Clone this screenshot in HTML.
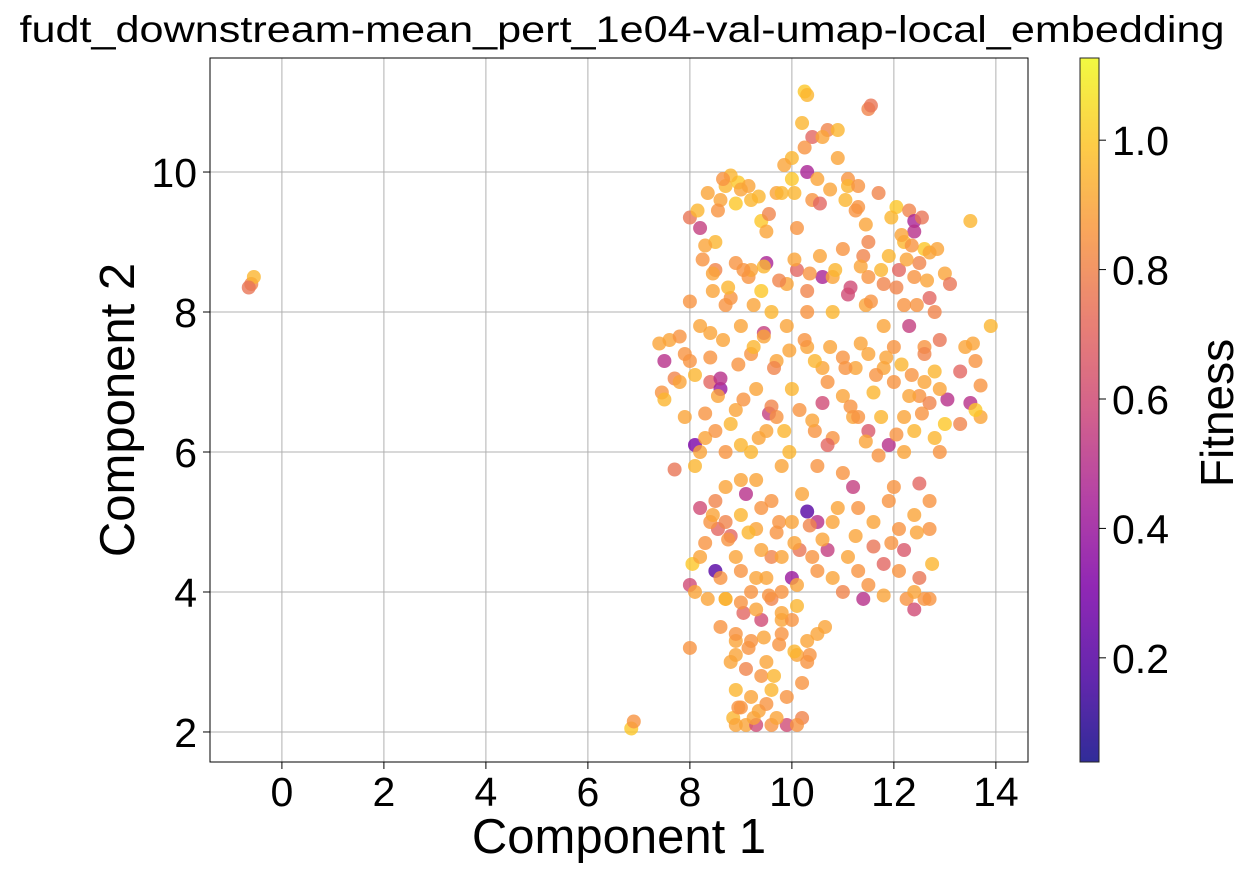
<!DOCTYPE html>
<html><head><meta charset="utf-8"><style>
body{margin:0;background:#fff;font-family:"Liberation Sans",sans-serif}
svg text{font-family:"Liberation Sans",sans-serif;fill:#000}
</style></head><body>
<svg id="chart" width="1247" height="872" viewBox="0 0 1247 872" xmlns="http://www.w3.org/2000/svg">
<defs>
<linearGradient id="plasma" x1="0" y1="1" x2="0" y2="0">
<stop offset="0" stop-color="#0d0887"/><stop offset="0.125" stop-color="#4c02a1"/><stop offset="0.25" stop-color="#7e03a8"/><stop offset="0.375" stop-color="#a82296"/><stop offset="0.5" stop-color="#cc4778"/><stop offset="0.625" stop-color="#e56b5d"/><stop offset="0.75" stop-color="#f89540"/><stop offset="0.875" stop-color="#fdc328"/><stop offset="1" stop-color="#f0f921"/>
</linearGradient>
</defs>
<text x="622" y="42" font-size="37" text-anchor="middle" textLength="1205" lengthAdjust="spacingAndGlyphs">fudt_downstream-mean_pert_1e04-val-umap-local_embedding</text>
<g id="grid"></g>
<g id="points"></g>
<rect x="210" y="58" width="818" height="704" fill="none" stroke="#000" stroke-width="1"/>
<g id="axes"></g>
<text x="619" y="853" font-size="49" text-anchor="middle">Component 1</text>
<text transform="translate(134,410) rotate(-90)" font-size="49" text-anchor="middle">Component 2</text>
<rect x="1080" y="58" width="19" height="704" fill="url(#plasma)" opacity="0.85" stroke="#000" stroke-width="1"/>
<g id="cbticks"></g>
<text transform="translate(1233,413) rotate(-90)" font-size="46" text-anchor="middle">Fitness</text>
</svg>
<script>
const xTicks=[0,2,4,6,8,10,12,14];
const yTicks=[2,4,6,8,10];
const cTicks=[0.2,0.4,0.6,0.8,1.0];
const xs=[-0.6,-0.55,-0.65,6.85,6.9,7.4,7.5,7.45,7.5,7.6,7.7,7.8,7.9,7.7,7.9,8.0,8.0,8.0,8.0,8.05,8.1,8.1,8.1,8.2,8.2,8.2,8.3,8.3,8.35,8.4,8.45,8.5,8.5,8.5,8.5,8.55,8.6,8.6,8.6,8.7,8.7,8.7,8.7,8.7,8.8,8.85,8.9,8.9,8.9,8.9,8.95,9.0,9.0,9.0,9.0,9.05,9.1,9.1,9.1,9.15,9.2,9.2,9.3,9.3,9.35,9.4,9.4,9.4,9.4,9.4,9.45,9.5,9.5,9.55,9.6,9.6,9.6,9.65,9.7,9.7,9.75,9.8,9.8,9.9,9.9,9.95,10.0,10.0,10.0,10.1,10.1,10.1,10.15,10.2,10.2,10.25,10.3,10.3,10.3,10.3,10.35,10.4,10.4,10.45,10.5,10.5,10.6,10.6,10.6,10.65,10.7,10.7,10.8,10.8,10.9,10.9,11.0,11.0,11.1,11.1,11.2,11.2,11.25,11.3,11.3,11.4,11.4,11.45,11.5,11.55,11.5,11.6,11.6,11.7,11.8,11.8,11.9,11.9,12.0,12.0,12.05,12.1,12.2,12.2,12.2,12.25,12.3,12.3,12.4,12.4,12.4,12.4,12.5,12.5,12.5,12.6,12.6,12.6,12.7,12.7,12.7,12.75,12.8,12.8,12.9,12.9,13.0,13.0,13.05,13.3,13.3,13.5,13.5,13.55,13.6,13.7,13.7,13.9,13.6,
8.3,8.55,8.8,9.0,9.2,9.5,9.8,10.0,10.4,10.6,10.9,11.1,11.3,11.5,11.0,10.8,10.3,9.9,9.6,9.2,8.8,8.4,8.0,7.8,8.2,8.5,8.9,9.3,9.7,10.0,10.3,10.7,11.0,11.3,11.5,11.8,12.0,12.2,12.4,12.6,12.8,12.2,11.8,11.5,12.7,12.5,8.4,8.7,9.0,9.3,9.6,9.8,10.2,10.5,10.8,11.0,11.3,11.6,11.9,12.1,12.4,12.7,8.2,8.6,8.9,9.2,9.5,9.8,10.1,10.5,10.8,11.1,11.5,11.8,12.1,12.4,12.7,8.6,8.9,9.2,9.5,9.8,10.0,10.3,10.5,8.9,9.2,9.5,9.7,9.9,10.1,9.3,9.6,9.0,8.8,10.2,
8.15,8.35,8.65,8.9,9.15,9.35,9.55,9.85,10.05,10.25,10.55,10.75,11.05,11.25,11.45,11.7,11.95,12.15,12.35,12.55,12.85,8.25,8.45,8.75,9.05,9.25,9.45,9.75,10.05,10.35,10.55,10.85,11.15,11.35,11.55,11.75,12.05,12.25,12.45,12.65,13.1,13.4,8.1,8.4,8.65,8.95,9.25,9.45,9.65,9.95,10.25,10.45,10.75,11.05,11.35,11.65,11.85,12.15,12.35,12.6,12.9,8.3,8.55,8.8,9.05,9.35,9.6,9.85,10.15,10.4,10.7,11.15,11.45,11.75,12.05,12.3,12.55,8.45,8.75,9.15,9.4,9.7,10.05,10.35,10.6,11.25,11.95,12.45,8.7,9.0,9.3,9.55,9.8,10.1,9.15,9.45,9.75,10.05,10.3,8.95,9.25,9.55,9.85];
const ys=[8.4,8.5,8.35,2.05,2.15,7.55,7.3,6.85,6.75,7.6,7.05,7.65,7.4,5.75,6.5,8.15,9.35,3.2,4.1,4.4,4.0,5.8,6.1,9.2,7.8,5.2,6.2,4.7,3.9,7.0,8.3,8.6,9.0,5.3,4.3,4.9,6.9,7.05,9.6,9.8,8.1,6.0,5.0,3.9,4.8,2.2,2.6,3.3,3.4,8.7,9.85,7.8,6.1,5.6,4.3,3.7,2.9,2.1,5.4,8.5,7.4,6.0,4.9,4.2,2.3,2.8,3.6,5.2,8.3,9.3,7.7,8.7,6.3,6.55,4.5,3.9,2.1,2.8,7.3,9.7,5.0,4.5,3.4,2.1,7.8,6.0,4.2,5.0,9.9,9.2,8.6,3.1,4.6,10.7,2.2,11.15,11.1,5.15,10.0,8.3,3.1,10.5,4.5,6.3,5.0,9.9,7.2,8.5,6.7,3.5,4.6,10.6,8.0,6.2,5.2,10.2,7.35,4.0,9.9,8.25,6.5,5.5,7.2,9.5,4.3,8.8,3.9,8.1,10.9,10.95,6.3,6.85,4.65,5.95,7.2,4.4,6.1,8.8,5.5,7.5,9.5,8.6,9.0,6.0,4.6,3.9,7.8,9.45,9.3,9.15,8.5,3.75,6.8,5.55,4.2,8.9,7.0,3.9,8.85,6.7,5.3,4.4,8.0,7.15,7.6,6.0,8.55,6.4,6.75,7.15,6.4,9.3,6.7,7.55,7.3,6.5,6.95,7.8,6.6,
8.95,9.45,9.95,9.75,9.6,9.15,9.7,10.2,9.6,10.5,10.6,9.8,9.8,9.0,8.9,8.5,8.0,8.4,8.0,8.6,8.2,7.7,7.3,7.0,6.0,6.3,6.6,6.9,6.5,6.9,7.5,7.0,6.8,6.5,7.4,7.8,7.0,6.5,6.3,7.5,6.2,8.1,8.4,8.5,8.2,8.7,5.0,5.5,5.1,5.6,5.3,5.8,5.4,5.8,5.0,5.7,5.2,5.0,5.3,4.9,5.1,4.9,4.5,4.2,4.5,4.0,4.2,4.0,4.1,4.3,4.2,4.5,4.1,3.95,4.3,4.0,3.9,3.5,3.1,3.3,3.0,3.6,3.6,3.0,3.4,2.1,2.5,2.4,2.2,2.5,2.1,2.1,2.6,2.35,3.0,2.7,
9.45,9.7,9.9,9.55,9.8,9.65,9.4,10.1,9.7,10.35,9.55,9.75,9.6,9.45,9.25,9.7,9.35,9.1,8.95,9.35,8.9,8.75,8.55,8.35,8.6,8.1,8.65,8.45,8.75,8.55,8.8,8.6,8.35,8.65,8.15,8.6,8.35,8.75,8.1,8.45,8.4,7.5,7.1,7.35,7.6,7.25,7.5,7.65,7.2,7.45,7.6,7.3,7.5,7.2,7.55,7.1,7.35,7.25,7.1,7.4,6.9,6.55,6.8,6.4,6.75,6.2,6.65,6.3,6.6,6.45,6.1,6.65,6.15,6.5,6.25,6.8,6.55,5.1,4.75,4.85,4.6,4.85,4.7,4.95,4.75,4.8,4.7,4.85,3.9,3.85,3.75,3.95,3.7,3.8,3.2,3.35,3.25,3.15,3.3,2.35,2.2,2.05,2.3];
const fit=[0.8,0.95,0.75,1.0,0.85,0.9,0.5,0.85,0.95,0.9,0.8,0.85,0.85,0.75,0.9,0.85,0.75,0.85,0.6,1.0,0.9,0.95,0.3,0.55,0.9,0.6,0.9,0.85,0.9,0.7,0.9,0.8,0.95,0.8,0.2,0.7,0.4,0.5,0.9,0.95,0.85,0.85,0.8,0.9,0.7,0.95,0.95,0.9,0.85,0.85,1.0,0.9,0.95,0.9,0.85,0.7,0.8,0.9,0.5,0.85,0.85,0.95,0.9,0.9,0.9,0.85,0.6,0.85,1.0,1.0,0.55,0.45,0.9,0.55,0.8,0.8,0.85,0.95,0.9,0.9,0.85,0.9,0.85,0.6,0.9,0.95,0.4,0.9,1.0,0.85,0.7,0.9,0.75,0.95,0.8,1.0,0.95,0.2,0.45,0.8,0.85,0.7,0.85,0.85,0.5,0.9,0.9,0.45,0.6,0.9,0.55,0.8,0.95,0.85,0.9,0.9,0.85,0.8,0.85,0.6,0.9,0.55,0.9,0.85,0.85,0.8,0.5,0.9,0.8,0.75,0.65,0.95,0.75,0.85,0.9,0.7,0.5,0.95,0.85,0.85,1.0,0.7,0.95,0.9,0.65,0.85,0.55,0.8,0.45,0.5,0.85,0.6,0.85,0.7,0.75,1.0,0.9,0.85,0.9,0.8,0.85,0.95,0.8,0.95,0.75,0.85,0.9,1.0,0.5,0.7,0.8,0.95,0.5,0.9,0.85,0.9,0.85,0.95,1.0,
0.9,0.85,0.95,0.9,0.95,0.9,0.95,0.95,0.85,0.9,0.95,0.95,0.85,0.8,0.85,0.9,0.85,0.9,0.95,0.9,0.85,0.9,0.85,0.9,0.9,0.85,0.9,0.9,0.85,0.95,0.9,0.85,0.9,0.85,0.9,0.9,0.85,0.9,0.95,0.85,0.95,0.85,0.8,0.85,0.7,0.8,0.85,0.9,0.95,0.9,0.85,0.9,0.9,0.85,0.9,0.85,0.85,0.9,0.85,0.85,0.9,0.85,0.9,0.85,0.9,0.85,0.9,0.85,0.9,0.85,0.9,0.9,0.85,0.9,0.85,0.9,0.85,0.85,0.9,0.85,0.9,0.9,0.85,0.85,0.9,0.9,0.9,0.85,0.9,0.85,0.85,0.6,0.95,0.85,0.9,0.85,
0.95,0.9,0.85,1.0,0.9,0.95,0.8,0.9,0.95,0.85,0.7,0.9,0.95,0.85,0.9,0.8,0.95,0.9,0.85,0.75,0.9,0.85,0.9,0.95,0.85,0.9,0.95,0.8,0.9,0.85,0.9,0.95,0.6,0.9,0.85,0.95,0.8,0.9,0.85,0.9,0.75,0.9,0.95,0.85,0.9,0.85,0.95,0.9,0.8,0.9,0.85,0.95,0.9,0.85,0.9,0.85,0.9,0.95,0.85,0.8,0.9,0.85,0.9,0.95,0.85,0.9,0.8,0.95,0.85,0.9,0.7,0.85,0.9,0.95,0.85,0.9,0.85,0.9,0.85,0.95,0.9,0.85,0.9,0.8,0.9,0.9,0.85,0.9,0.95,0.85,0.9,0.85,0.9,0.95,0.85,0.9,0.85,0.95,0.9,0.85,0.9];
const NS="http://www.w3.org/2000/svg";
const L=210,R=1028,T=58,B=762,XMIN=-1.41,XMAX=14.63,YMIN=1.571,YMAX=11.629,CMIN=0.039,CMAX=1.127;
const sx=v=>L+(v-XMIN)/(XMAX-XMIN)*(R-L);
const sy=v=>B-(v-YMIN)/(YMAX-YMIN)*(B-T);
const sc=v=>B-(v-CMIN)/(CMAX-CMIN)*(B-T);
const stops=[[13,8,135],[76,2,161],[126,3,168],[168,34,150],[204,71,120],[229,107,93],[248,149,64],[253,195,40],[240,249,33]];
function cmap(f){let t=Math.max(0,Math.min(1,(f-CMIN)/(CMAX-CMIN)))*8;let i=Math.min(7,Math.floor(t)),u=t-i;const a=stops[i],b=stops[i+1];return `rgb(${a.map((c,k)=>Math.round(c+(b[k]-c)*u)).join(',')})`;}
function mk(tag,at,parent){const e=document.createElementNS(NS,tag);for(const k in at)e.setAttribute(k,at[k]);parent.appendChild(e);return e;}
const grid=document.getElementById('grid'),axes=document.getElementById('axes'),pts=document.getElementById('points'),cb=document.getElementById('cbticks');
xTicks.forEach(v=>{const x=sx(v);
const g=mk('line',{x1:x,x2:x,y1:T,y2:B,stroke:'#b0b0b0','stroke-width':1},grid);


const t=mk('line',{x1:x,x2:x,y1:B,y2:B+7,stroke:'#000'},axes);


const l=mk('text',{x:x,y:B+44,'font-size':41,'text-anchor':'middle'},axes);l.textContent=v;

});
yTicks.forEach(v=>{const y=sy(v);
const g=mk('line',{x1:L,x2:R,y1:y,y2:y,stroke:'#b0b0b0','stroke-width':1},grid);


const t=mk('line',{x1:L-7,x2:L,y1:y,y2:y,stroke:'#000'},axes);


const l=mk('text',{x:L-13,y:y+15,'font-size':41,'text-anchor':'end'},axes);l.textContent=v;

});
cTicks.forEach(v=>{const y=sc(v);
const t=mk('line',{x1:1099,x2:1106,y1:y,y2:y,stroke:'#000'},cb);


const l=mk('text',{x:1112,y:y+15,'font-size':41},cb);l.textContent=v.toFixed(1);

});
const n=Math.min(xs.length,ys.length,fit.length);
for(let i=0;i<n;i++){
const c=mk('circle',{cx:sx(xs[i]),cy:sy(ys[i]),r:7,fill:cmap(fit[i]),'fill-opacity':0.8},pts);


}
</script>
</body></html>
